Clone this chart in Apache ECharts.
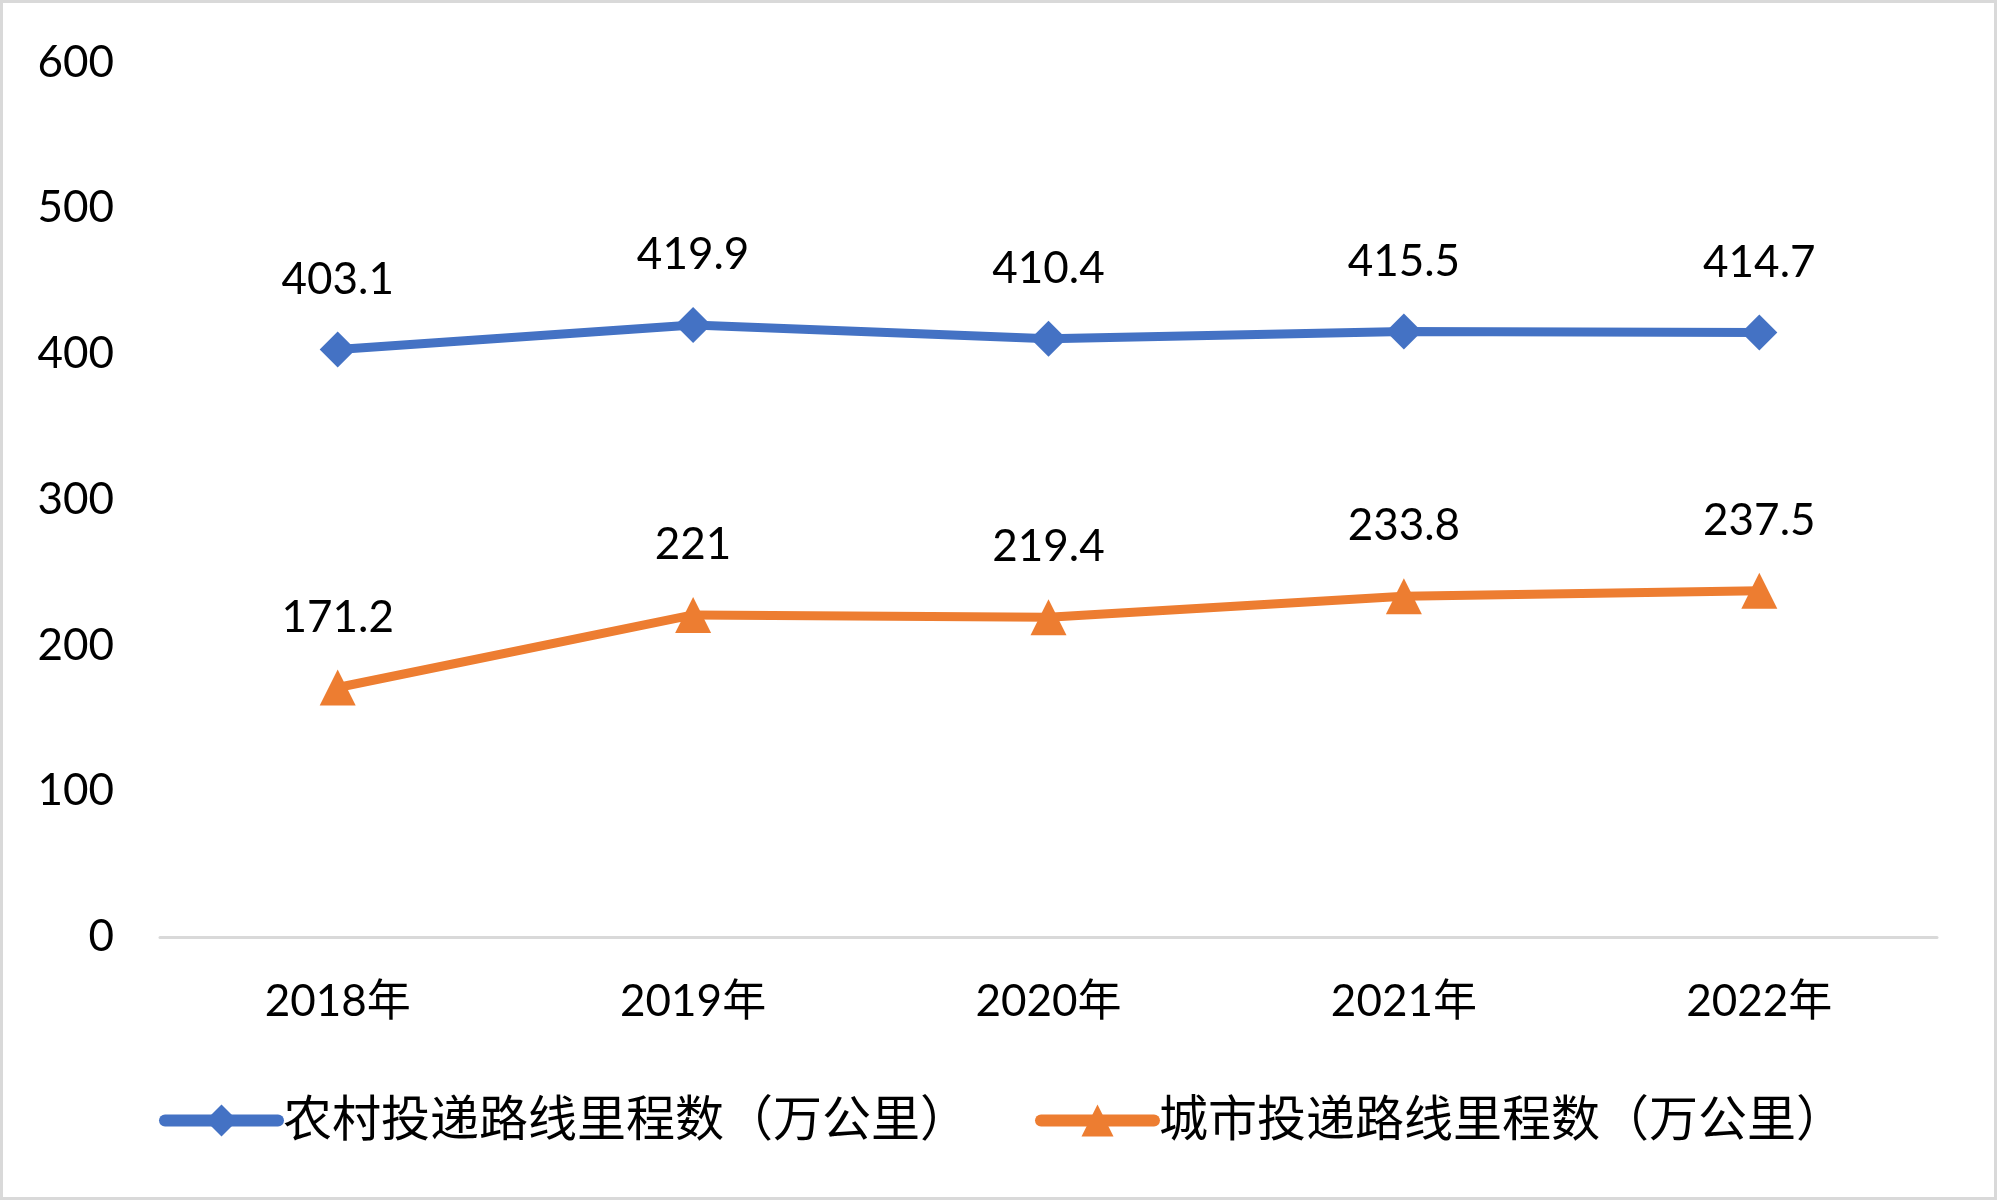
<!DOCTYPE html>
<html>
<head>
<meta charset="utf-8">
<script src="https://cdn.jsdelivr.net/npm/echarts@6/dist/echarts.min.js"></script>
<style>
html,body{margin:0;padding:0;background:#fff;}
#chart{width:2000px;height:1202px;}
</style>
</head>
<body>
<div id="chart"></div>
<script>
const categories = ['2018年', '2019年', '2020年', '2021年', '2022年'];
const ruralName = '农村投递路线里程数（万公里）';
const urbanName = '城市投递路线里程数（万公里）';
const ruralValues = [403.1, 419.9, 410.4, 415.5, 414.7];
const urbanValues = [171.2, 221, 219.4, 233.8, 237.5];
const yTicks = { min: 0, max: 600, interval: 100 };

const FONT = 'Lato, "Noto Sans CJK SC", sans-serif';
const chart = echarts.init(document.getElementById('chart'));

const labelCfg = {
  show: true,
  position: 'top',
  distance: 30,
  color: '#000',
  fontSize: 44,
  lineHeight: 44,
  fontFamily: FONT
};

chart.setOption({
  animation: false,
  backgroundColor: '#fff',
  graphic: [{
    type: 'rect',
    shape: { x: 1.5, y: 1.5, width: 1994, height: 1197 },
    style: { fill: 'none', stroke: '#d9d9d9', lineWidth: 3 },
    silent: true
  }],
  grid: { left: 160, right: 63, top: 62.5, bottom: 265, containLabel: false },
  legend: {
    left: 159,
    top: 1096,
    padding: 0,
    itemWidth: 113,
    itemHeight: 40,
    itemGap: 66,
    lineStyle: { width: 12, cap: 'round' },
    textStyle: { fontSize: 49, color: '#000', fontFamily: FONT },
    data: [ruralName, urbanName]
  },
  xAxis: {
    type: 'category',
    data: categories,
    boundaryGap: true,
    axisLine: { show: true, lineStyle: { color: '#d9d9d9', width: 3 } },
    axisTick: { show: false },
    axisLabel: { color: '#000', fontSize: 44, margin: 43, fontFamily: FONT }
  },
  yAxis: {
    type: 'value',
    min: yTicks.min,
    max: yTicks.max,
    interval: yTicks.interval,
    axisLine: { show: false },
    axisTick: { show: false },
    splitLine: { show: false },
    axisLabel: { color: '#000', fontSize: 44, margin: 46, fontFamily: FONT }
  },
  series: [
    {
      name: ruralName,
      type: 'line',
      data: ruralValues,
      symbol: 'diamond',
      symbolSize: 36,
      color: '#4472C4',
      lineStyle: { width: 9, color: '#4472C4' },
      itemStyle: { color: '#4472C4' },
      label: labelCfg
    },
    {
      name: urbanName,
      type: 'line',
      data: urbanValues,
      symbol: 'triangle',
      symbolSize: 36,
      color: '#ED7D31',
      lineStyle: { width: 9, color: '#ED7D31' },
      itemStyle: { color: '#ED7D31' },
      label: labelCfg
    }
  ]
});
</script>
</body>
</html>
